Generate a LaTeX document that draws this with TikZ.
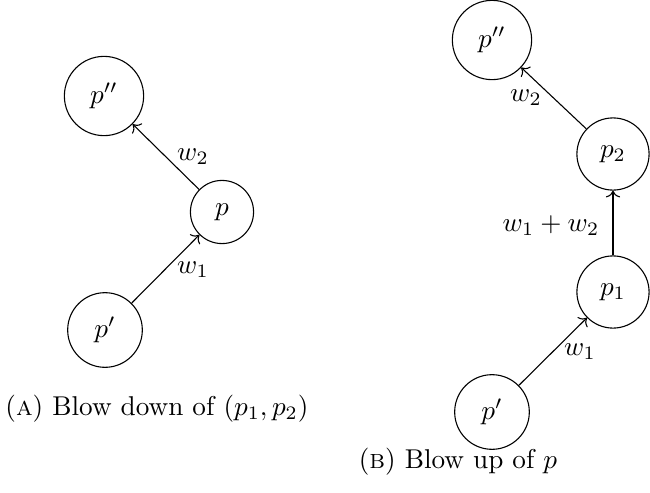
\documentclass[tikz,border=0pt]{standalone}
\usetikzlibrary{arrows.meta}
\begin{document}
\begin{tikzpicture}[x=0.3676pt,y=-0.3676pt,
  pt/.style={draw,circle,inner sep=5.4pt,line width=0.4pt},
  arr/.style={->,line width=0.4pt},
  lbl/.style={inner sep=0pt}]
\useasboundingbox (0,0) rectangle (650,493);
% left diagram
\node[pt] (Lpp) at (104,96) {$p''$};
\node[pt] (Lp) at (222,212) {$p$};
\node[pt] (Lp1) at (105,330) {$p'$};
\draw[arr] (Lp1) -- (Lp);
\draw[arr] (Lp) -- (Lpp);
\node[lbl] (Lw2) at (193,157) {$w_2$};
\node[lbl] (Lw1) at (193,270) {$w_1$};
\node[lbl] (capA) at (157,409) {(\textsc{a}) Blow down of $(p_1,p_2)$};
% right diagram
\node[pt] (Rpp) at (492,40) {$p''$};
\node[pt] (Rp2) at (613,154) {$p_2$};
\node[pt] (Rp1) at (613,292) {$p_1$};
\node[pt] (Rpq) at (492,412) {$p'$};
\draw[arr] (Rpq) -- (Rp1);
\draw[arr] (Rp1) -- (Rp2);
\draw[arr] (Rp2) -- (Rpp);
\node[lbl] (Rw2) at (526,98) {$w_2$};
\node[lbl] (Rw12) at (551,226) {$w_1+w_2$};
\node[lbl] (Rw1) at (580,352) {$w_1$};
\node[lbl] (capB) at (458,462) {(\textsc{b}) Blow up of $p$};
\end{tikzpicture}
\end{document}
